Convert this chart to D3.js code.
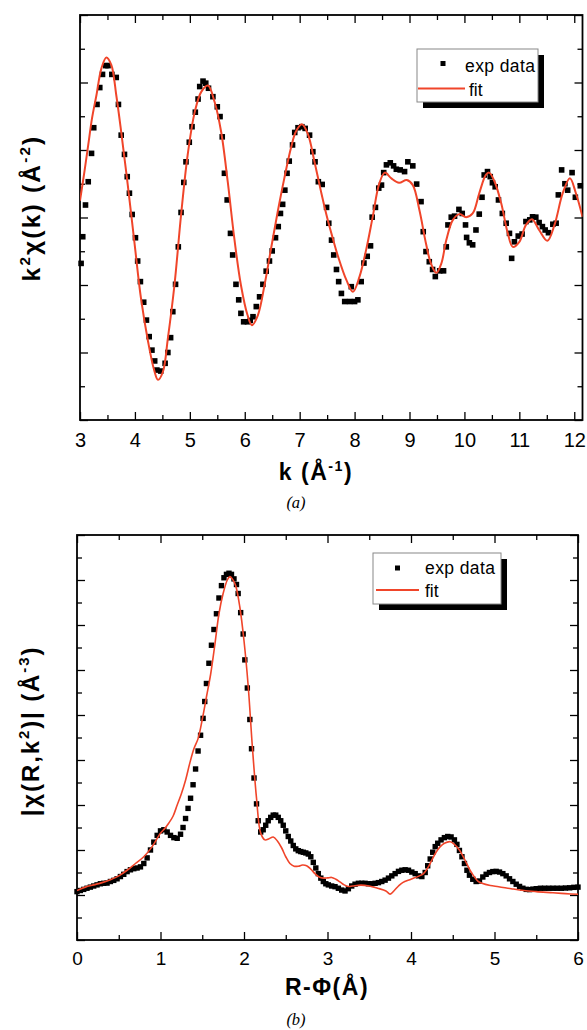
<!DOCTYPE html>
<html>
<head>
<meta charset="utf-8">
<script src="https://cdn.jsdelivr.net/npm/d3@7"></script>
<style>
  body { margin: 0; background: #fff; }
  svg { display: block; }
  text { font-family: "Liberation Sans", Arial, sans-serif; fill: #000; }
</style>
</head>
<body>
<svg id="fig" width="587" height="1030"></svg>
<script>
// ---- panel (a): k^2 chi(k) ----
var kTicks = [3, 4, 5, 6, 7, 8, 9, 10, 11, 12];
var expK = [
  [3.02,-1.36],[3.05,-0.57],[3.10,0.37],[3.15,1.06],[3.21,1.90],[3.25,2.66],[3.31,3.35],[3.36,3.85],
  [3.41,4.24],[3.47,4.50],[3.51,4.50],[3.58,4.24],[3.66,4.15],[3.70,3.35],[3.75,2.44],[3.81,1.87],
  [3.86,1.21],[3.90,0.72],[3.95,0.09],[4.01,-0.60],[4.05,-1.29],[4.10,-1.90],[4.16,-2.51],[4.21,-3.04],
  [4.26,-3.53],[4.31,-3.93],[4.36,-4.25],[4.40,-4.52],[4.47,-4.55],[4.55,-4.32],[4.60,-4.00],[4.65,-3.56],
  [4.69,-2.79],[4.74,-1.98],[4.79,-0.87],[4.84,0.15],[4.89,1.04],[4.93,1.65],[4.99,2.23],[5.04,2.69],
  [5.10,3.12],[5.15,3.51],[5.18,3.88],[5.24,4.04],[5.29,3.98],[5.34,3.83],[5.42,3.58],[5.50,3.28],
  [5.55,2.99],[5.59,2.39],[5.63,1.31],[5.68,0.52],[5.74,-0.47],[5.78,-1.11],[5.84,-1.98],[5.89,-2.44],
  [5.93,-2.84],[5.98,-3.09],[6.05,-3.09],[6.10,-3.05],[6.15,-2.94],[6.21,-2.64],[6.27,-2.35],[6.33,-1.98],
  [6.39,-1.59],[6.45,-1.29],[6.50,-0.99],[6.56,-0.60],[6.61,-0.27],[6.65,0.12],[6.69,0.39],[6.73,0.81],
  [6.77,1.31],[6.81,1.67],[6.87,2.15],[6.91,2.52],[6.97,2.66],[7.04,2.69],[7.10,2.64],[7.18,2.44],
  [7.24,1.95],[7.28,1.65],[7.34,1.06],[7.41,0.98],[7.49,0.30],[7.53,-0.17],[7.58,-0.67],[7.62,-1.11],
  [7.67,-1.54],[7.71,-1.90],[7.76,-2.25],[7.82,-2.49],[7.91,-2.49],[7.94,-2.05],[8.00,-2.49],[8.06,-2.44],
  [8.12,-1.90],[8.17,-1.35],[8.23,-1.15],[8.29,-0.84],[8.32,0.01],[8.38,0.30],[8.44,0.87],[8.49,0.96],
  [8.53,1.33],[8.58,1.56],[8.65,1.62],[8.71,1.53],[8.76,1.43],[8.83,1.41],[8.91,1.36],[8.97,1.65],
  [9.06,1.53],[9.13,0.99],[9.21,0.47],[9.25,-0.42],[9.30,-1.01],[9.36,-1.31],[9.42,-1.54],[9.47,-1.75],
  [9.55,-1.58],[9.62,-1.58],[9.67,-0.87],[9.70,-0.22],[9.76,0.01],[9.82,0.04],[9.90,0.24],[9.96,0.12],
  [10.02,-0.22],[10.04,-0.59],[10.09,-0.75],[10.15,-0.81],[10.21,-0.37],[10.27,0.10],[10.32,0.60],[10.36,1.26],
  [10.42,1.36],[10.47,1.21],[10.51,1.03],[10.56,0.91],[10.62,0.52],[10.69,0.12],[10.76,-0.17],[10.82,-0.47],
  [10.86,-1.21],[10.91,-0.72],[10.98,-0.55],[11.05,-0.49],[11.12,-0.12],[11.19,-0.07],[11.24,0.02],[11.30,0.01],
  [11.36,-0.15],[11.42,-0.27],[11.47,-0.37],[11.53,-0.45],[11.61,-0.20],[11.67,-0.17],[11.71,0.67],[11.77,1.41],
  [11.83,1.00],[11.88,0.81],[11.96,1.33],[12.02,0.60],[12.11,0.94]
];
var fitK = [
  [3.00,0.50],[3.08,1.35],[3.15,2.15],[3.22,2.95],[3.30,3.63],[3.39,4.42],[3.48,4.74],[3.57,4.52],
  [3.66,3.63],[3.75,2.54],[3.87,0.96],[3.99,-0.72],[4.11,-2.39],[4.24,-3.68],[4.35,-4.52],[4.42,-4.81],
  [4.51,-4.57],[4.60,-3.58],[4.72,-2.00],[4.84,0.07],[4.96,1.85],[5.09,3.13],[5.21,3.73],[5.33,3.91],
  [5.45,3.43],[5.57,2.54],[5.69,1.06],[5.81,-0.62],[5.93,-2.00],[6.05,-2.89],[6.13,-3.19],[6.24,-2.89],
  [6.36,-2.00],[6.48,-0.91],[6.60,0.17],[6.72,1.16],[6.84,2.05],[6.93,2.54],[7.04,2.76],[7.15,2.47],
  [7.27,1.65],[7.39,0.76],[7.50,0.00],[7.60,-0.60],[7.70,-1.16],[7.85,-1.85],[7.97,-2.20],[8.09,-1.75],
  [8.21,-0.96],[8.33,0.02],[8.45,1.01],[8.55,1.33],[8.67,1.16],[8.81,1.03],[8.95,1.11],[9.06,0.96],
  [9.18,0.22],[9.30,-0.77],[9.39,-1.36],[9.49,-1.64],[9.58,-1.36],[9.67,-0.67],[9.79,-0.07],[9.91,0.10],
  [10.03,0.01],[10.15,0.12],[10.27,0.72],[10.39,1.26],[10.45,1.33],[10.55,1.06],[10.67,0.42],[10.79,-0.47],
  [10.88,-0.87],[11.00,-0.72],[11.12,-0.22],[11.23,-0.05],[11.36,-0.37],[11.51,-0.69],[11.64,-0.22],[11.79,0.72],
  [11.92,1.16],[12.03,0.72],[12.15,0.02]
];

// ---- panel (b): |chi(R)| ----
var rTicks = [0, 1, 2, 3, 4, 5, 6];
var expR = [
  [0.00,2.15],[0.04,2.20],[0.08,2.25],[0.12,2.30],[0.16,2.35],[0.20,2.40],[0.24,2.45],[0.28,2.50],
  [0.32,2.52],[0.36,2.53],[0.40,2.60],[0.44,2.65],[0.48,2.72],[0.52,2.82],[0.56,2.92],[0.60,3.04],
  [0.64,3.12],[0.68,3.17],[0.72,3.20],[0.76,3.25],[0.80,3.40],[0.84,3.65],[0.88,4.00],[0.92,4.35],
  [0.96,4.65],[1.00,4.85],[1.04,4.90],[1.08,4.80],[1.12,4.65],[1.16,4.55],[1.20,4.52],[1.24,4.70],
  [1.27,5.00],[1.30,5.40],[1.33,5.85],[1.36,6.30],[1.39,6.90],[1.42,7.60],[1.45,8.40],[1.48,9.10],
  [1.51,9.85],[1.53,10.60],[1.55,11.40],[1.58,12.30],[1.61,13.10],[1.64,13.80],[1.67,14.50],[1.70,15.20],
  [1.73,15.75],[1.76,16.10],[1.79,16.25],[1.82,16.30],[1.85,16.25],[1.88,16.05],[1.91,15.80],[1.93,15.40],
  [1.96,14.55],[1.99,13.60],[2.01,12.45],[2.04,11.20],[2.07,9.80],[2.09,8.50],[2.12,7.20],[2.15,6.05],
  [2.17,5.30],[2.20,4.80],[2.23,4.90],[2.26,5.10],[2.29,5.30],[2.32,5.45],[2.35,5.55],[2.38,5.55],
  [2.41,5.45],[2.44,5.30],[2.47,5.10],[2.50,4.85],[2.53,4.60],[2.56,4.40],[2.59,4.20],[2.62,4.05],
  [2.65,3.97],[2.68,3.93],[2.71,3.90],[2.74,3.87],[2.77,3.82],[2.80,3.70],[2.83,3.45],[2.86,3.20],
  [2.89,2.95],[2.92,2.75],[2.95,2.60],[2.98,2.50],[3.01,2.45],[3.05,2.40],[3.09,2.37],[3.13,2.30],
  [3.17,2.22],[3.21,2.18],[3.25,2.28],[3.29,2.40],[3.33,2.48],[3.37,2.52],[3.41,2.52],[3.45,2.52],
  [3.49,2.50],[3.53,2.50],[3.57,2.52],[3.61,2.55],[3.65,2.60],[3.69,2.66],[3.73,2.75],[3.77,2.85],
  [3.81,2.95],[3.85,3.05],[3.89,3.10],[3.93,3.12],[3.97,3.10],[4.01,3.02],[4.05,2.95],[4.09,2.85],
  [4.13,2.82],[4.17,3.00],[4.20,3.30],[4.23,3.60],[4.26,3.90],[4.29,4.15],[4.32,4.30],[4.36,4.45],
  [4.40,4.55],[4.44,4.60],[4.48,4.58],[4.52,4.45],[4.55,4.25],[4.58,3.98],[4.61,3.70],[4.64,3.40],
  [4.67,3.10],[4.70,2.88],[4.74,2.70],[4.78,2.60],[4.82,2.62],[4.86,2.80],[4.90,2.92],[4.94,3.00],
  [4.98,3.04],[5.02,3.05],[5.06,3.02],[5.10,2.95],[5.14,2.85],[5.18,2.72],[5.22,2.60],[5.26,2.48],
  [5.30,2.38],[5.34,2.30],[5.38,2.25],[5.42,2.24],[5.46,2.26],[5.50,2.28],[5.55,2.30],[5.60,2.30],
  [5.65,2.30],[5.70,2.30],[5.75,2.30],[5.80,2.30],[5.85,2.31],[5.90,2.32],[5.95,2.34],[6.00,2.35]
];
var fitR = [
  [0.00,2.20],[0.10,2.35],[0.20,2.45],[0.30,2.55],[0.40,2.68],[0.50,2.85],[0.60,3.10],[0.70,3.40],
  [0.80,3.70],[0.90,4.15],[1.00,4.75],[1.05,4.95],[1.10,5.20],[1.15,5.50],[1.20,6.00],[1.25,6.50],
  [1.30,7.10],[1.35,7.85],[1.40,8.50],[1.45,8.95],[1.50,9.80],[1.55,10.80],[1.60,11.80],[1.65,13.10],
  [1.70,14.50],[1.75,15.40],[1.80,16.00],[1.83,16.15],[1.86,16.05],[1.90,15.75],[1.95,14.80],[2.00,13.30],
  [2.05,11.30],[2.10,8.60],[2.15,6.30],[2.20,4.75],[2.25,4.45],[2.30,4.50],[2.35,4.58],[2.40,4.40],
  [2.45,4.10],[2.50,3.70],[2.55,3.40],[2.60,3.28],[2.65,3.28],[2.70,3.33],[2.75,3.30],[2.80,3.15],
  [2.85,2.95],[2.90,2.80],[2.95,2.75],[3.00,2.76],[3.05,2.78],[3.10,2.70],[3.15,2.58],[3.20,2.45],
  [3.25,2.38],[3.30,2.40],[3.40,2.44],[3.50,2.40],[3.60,2.30],[3.70,2.18],[3.75,2.04],[3.80,2.20],
  [3.85,2.40],[3.90,2.55],[4.00,2.70],[4.10,2.85],[4.15,2.95],[4.20,3.20],[4.25,3.55],[4.30,3.90],
  [4.35,4.15],[4.40,4.30],[4.47,4.37],[4.52,4.25],[4.58,4.00],[4.64,3.60],[4.70,3.15],[4.75,2.85],
  [4.80,2.62],[4.85,2.52],[4.95,2.42],[5.05,2.37],[5.20,2.28],[5.35,2.20],[5.50,2.15],[5.70,2.10],
  [5.85,2.06],[6.00,2.03]
];

var RED = "#f0452a";
var svg = d3.select("#fig");

function drawPanel(c) {
    var x = d3.scaleLinear().domain(c.xDomain).range([c.left, c.right]);
    var y = d3.scaleLinear().domain(c.yDomain).range([c.bottom, c.top]);
    var g = svg.append("g");

    var clipId = "clip-" + c.name;
    svg.append("clipPath").attr("id", clipId)
        .append("rect")
        .attr("x", c.left).attr("y", c.top)
        .attr("width", c.right - c.left).attr("height", c.bottom - c.top);

    var xMinor = d3.range(c.xDomain[0] + 0.5, c.xDomain[1], 1);
    var yMajor = d3.range(c.yDomain[0], c.yDomain[1] + 0.01, 2);
    var yMinor = d3.range(c.yDomain[0] + 1, c.yDomain[1], 2);

    function addAxis(axis, tx, ty, labels) {
        var a = g.append("g")
            .attr("transform", "translate(" + tx + "," + ty + ")")
            .call(axis);
        a.select(".domain").remove();
        a.selectAll("line").attr("stroke", "#000").attr("stroke-width", 1.3);
        if (labels) {
            a.selectAll("text")
                .attr("fill", "#000")
                .style("font-size", c.tickFont + "px")
                .style("font-family", '"Liberation Sans", Arial, sans-serif');
        }
        return a;
    }

    // bottom axis with labels, inward ticks
    addAxis(d3.axisBottom(x).tickValues(c.xTicks).tickSize(-8).tickPadding(c.tickPad)
        .tickFormat(d3.format("d")), 0, c.bottom, true);
    addAxis(d3.axisBottom(x).tickValues(xMinor).tickSize(-5).tickFormat(""), 0, c.bottom);
    // top axis
    addAxis(d3.axisTop(x).tickValues(c.xTicks).tickSize(-8).tickFormat(""), 0, c.top);
    addAxis(d3.axisTop(x).tickValues(xMinor).tickSize(-5).tickFormat(""), 0, c.top);
    // left / right axes, no labels
    addAxis(d3.axisLeft(y).tickValues(yMajor).tickSize(-8).tickFormat(""), c.left, 0);
    addAxis(d3.axisLeft(y).tickValues(yMinor).tickSize(-5).tickFormat(""), c.left, 0);
    addAxis(d3.axisRight(y).tickValues(yMajor).tickSize(-8).tickFormat(""), c.right, 0);
    addAxis(d3.axisRight(y).tickValues(yMinor).tickSize(-5).tickFormat(""), c.right, 0);

    // frame
    g.append("rect")
        .attr("x", c.left).attr("y", c.top)
        .attr("width", c.right - c.left).attr("height", c.bottom - c.top)
        .attr("fill", "none").attr("stroke", "#000").attr("stroke-width", 1.8);

    // exp data squares
    var s = c.sq;
    g.append("g").selectAll("rect")
        .data(c.exp)
        .enter().append("rect")
        .attr("x", function (d) { return x(d[0]) - s / 2; })
        .attr("y", function (d) { return y(d[1]) - s / 2; })
        .attr("width", s).attr("height", s)
        .attr("fill", "#000");

    // fit line
    var line = d3.line()
        .x(function (d) { return x(d[0]); })
        .y(function (d) { return y(d[1]); })
        .curve(d3.curveCatmullRom.alpha(0.5));
    g.append("path")
        .datum(c.fit)
        .attr("clip-path", "url(#" + clipId + ")")
        .attr("d", line)
        .attr("fill", "none")
        .attr("stroke", RED)
        .attr("stroke-width", c.lineW);

    // legend
    var L = c.legend;
    g.append("rect")
        .attr("x", L.x + 6).attr("y", L.y + 6).attr("width", L.w).attr("height", L.h)
        .attr("fill", "#000");
    g.append("rect")
        .attr("x", L.x).attr("y", L.y).attr("width", L.w).attr("height", L.h)
        .attr("fill", "#fff").attr("stroke", "#888").attr("stroke-width", 1);
    g.append("rect")
        .attr("x", L.sqX - 2.5).attr("y", L.sqY - 2.5).attr("width", 5).attr("height", 5)
        .attr("fill", "#000");
    g.append("line")
        .attr("x1", L.lineX1).attr("x2", L.lineX2).attr("y1", L.lineY).attr("y2", L.lineY)
        .attr("stroke", RED).attr("stroke-width", 1.8);
    g.append("text").attr("x", L.textX).attr("y", L.t1Y)
        .style("font-size", "17.5px").style("letter-spacing", "0.4px").text("exp data");
    g.append("text").attr("x", L.textX2).attr("y", L.t2Y)
        .style("font-size", "17.5px").text("fit");
}

drawPanel({
    name: "a", left: 80, right: 582.5, top: 15, bottom: 420,
    xDomain: [3, 12.15], yDomain: [-6, 6], xTicks: kTicks,
    tickFont: 20, tickPad: 13, sq: 5.6, lineW: 2,
    exp: expK, fit: fitK,
    legend: { x: 417, y: 49, w: 121, h: 53, sqX: 443, sqY: 63.5,
              lineX1: 418, lineX2: 465, lineY: 88.5,
              textX: 465, t1Y: 72, textX2: 469, t2Y: 96 }
});

drawPanel({
    name: "b", left: 77, right: 578, top: 535, bottom: 940,
    xDomain: [0, 6], yDomain: [0, 18], xTicks: rTicks,
    tickFont: 19, tickPad: 12, sq: 5.4, lineW: 1.6,
    exp: expR, fit: fitR,
    legend: { x: 373, y: 553, w: 128, h: 51, sqX: 397.5, sqY: 568,
              lineX1: 376, lineX2: 419, lineY: 590,
              textX: 425, t1Y: 574, textX2: 425, t2Y: 597 }
});

// axis titles
function label(x, y, rot, parts, size, spacing) {
    var t = svg.append("text")
        .attr("transform", "translate(" + x + "," + y + ")" + (rot ? " rotate(-90)" : ""))
        .attr("text-anchor", "middle")
        .style("font-size", size + "px")
        .style("font-weight", "bold")
        .style("letter-spacing", spacing + "px");
    parts.forEach(function (p) {
        var ts = t.append("tspan").text(p[0]);
        if (p[1] === "sup") {
            ts.attr("dy", -size * 0.4).style("font-size", (size * 0.62) + "px");
        } else if (p[1] === "after") {
            ts.attr("dy", size * 0.4);
        }
    });
    return t;
}

label(40, 208, true, [["k"], ["2", "sup"], ["χ(k)  (Å", "after"], ["-2", "sup"], [")", "after"]], 24.5, 2.2);
label(316, 480, false, [["k (Å"], ["-1", "sup"], [")", "after"]], 23, 1.5);
label(39, 731, true, [["|χ(R,k"], ["2", "sup"], [")|  (Å", "after"], ["-3", "sup"], [")", "after"]], 24, 1.9);
label(327, 995, false, [["R-Φ(Å)"]], 23, 1.5);

// captions
svg.append("text").attr("x", 296).attr("y", 508).attr("text-anchor", "middle")
    .style("font-family", '"Liberation Serif", "DejaVu Serif", serif')
    .style("font-style", "italic").style("font-size", "16.5px").text("(a)");
svg.append("text").attr("x", 296).attr("y", 1025).attr("text-anchor", "middle")
    .style("font-family", '"Liberation Serif", "DejaVu Serif", serif')
    .style("font-style", "italic").style("font-size", "16.5px").text("(b)");
</script>
</body>
</html>
